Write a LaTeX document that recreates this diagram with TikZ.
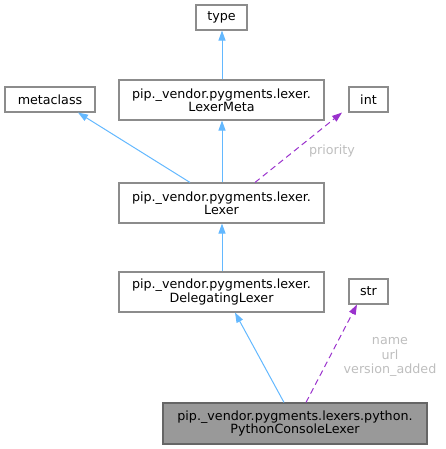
\documentclass[tikz,border=0pt]{standalone}
\usepackage{fontspec}
\setmainfont{DejaVu Sans}
\usetikzlibrary{arrows.meta,calc}
\definecolor{inhblue}{HTML}{63B8FF}
\definecolor{usepurple}{HTML}{9A32CD}
\definecolor{boxgray}{HTML}{8C8C8C}
\definecolor{boxfill}{HTML}{999999}
\definecolor{boxdark}{HTML}{666666}
\definecolor{lblgray}{HTML}{BEBEBE}
\begin{document}
\begin{tikzpicture}[x=1pt,y=-1pt,
  cls/.style={draw=boxgray,line width=1.1pt,fill=white,inner sep=0pt,align=center,
    font=\fontsize{12.7}{13.3}\selectfont,text=black},
  focus/.style={cls,fill=boxfill,draw=boxdark},
  inh/.style={draw=inhblue,line width=1pt,-{Triangle[length=10pt,width=7pt]}},
  use/.style={draw=usepurple,line width=1pt,dash pattern=on 6pt off 4pt,-{Triangle[length=10pt,width=7pt]}},
  lbl/.style={text=lblgray,font=\fontsize{12.7}{14.5}\selectfont,align=center,inner sep=0pt}]
\useasboundingbox (0,0) rectangle (445,449);
\node[cls,minimum width=51pt,minimum height=25pt] (type) at (221.5,17.5) {type};
\node[cls,minimum width=205pt,minimum height=40pt] (meta) at (221.5,100) {pip.\_vendor.pygments.lexer.\\LexerMeta};
\node[cls,minimum width=90pt,minimum height=25pt] (metaclass) at (50,99.5) {metaclass};
\node[cls,minimum width=39pt,minimum height=25pt] (int) at (368.5,99.5) {int};
\node[cls,minimum width=205pt,minimum height=40pt] (lexer) at (221.5,203) {pip.\_vendor.pygments.lexer.\\Lexer};
\node[cls,minimum width=205pt,minimum height=40pt] (deleg) at (221.5,292) {pip.\_vendor.pygments.lexer.\\DelegatingLexer};
\node[cls,minimum width=39pt,minimum height=25pt] (str) at (368.5,291.5) {str};
\node[focus,minimum width=264pt,minimum height=41pt] (pcl) at (295,423.5) {pip.\_vendor.pygments.lexers.python.\\PythonConsoleLexer};
\draw[inh] ([xshift=0.5pt]meta.north) -- ([xshift=0.5pt]type.south);
\draw[inh] ([xshift=0.5pt]lexer.north) -- ([xshift=0.5pt]meta.south);
\draw[inh] ([xshift=-31.5pt]lexer.north) -- ([xshift=28pt]metaclass.south);
\draw[use] ([xshift=33.5pt]lexer.north) -- ([xshift=-26.5pt]int.south);
\draw[inh] ([xshift=0.5pt]deleg.north) -- ([xshift=0.5pt]lexer.south);
\draw[inh] ([xshift=-11pt]pcl.north) -- ([xshift=13.5pt]deleg.south);
\draw[use] ([xshift=11pt]pcl.north) -- ([xshift=-11.5pt]str.south);
\node[lbl] (lp) at (332,151) {priority};
\node[lbl] (ls) at (390,357) {name\\url\\version\_added};
\end{tikzpicture}
\end{document}
